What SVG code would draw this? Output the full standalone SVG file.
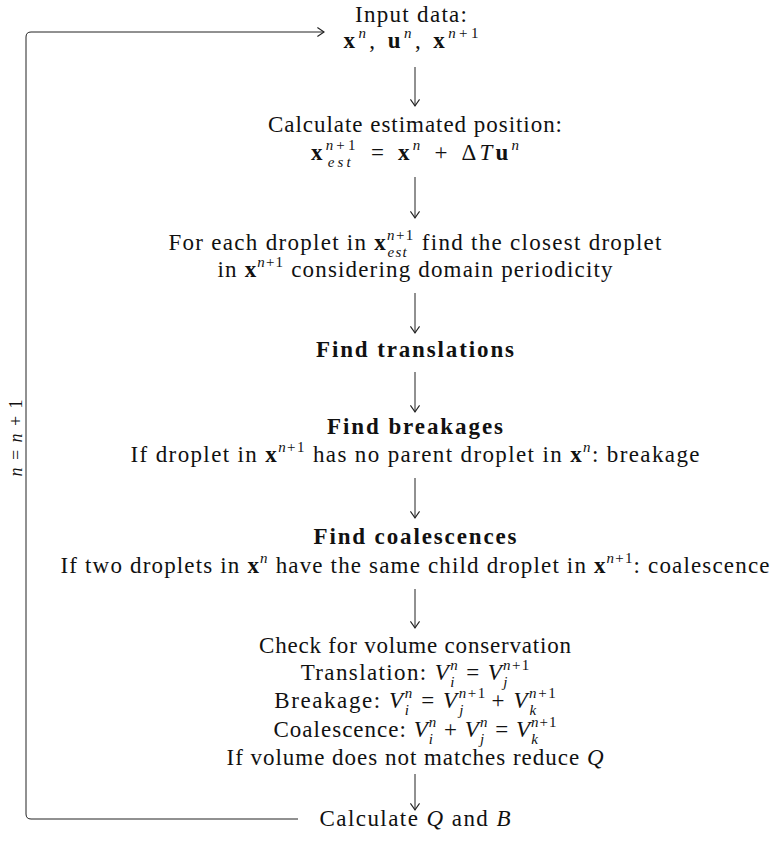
<svg xmlns="http://www.w3.org/2000/svg" width="774" height="860" viewBox="0 0 774 860">
<style>
text { font-family: "Liberation Serif", "Times New Roman", serif; font-size: 23px; fill: #111; text-anchor: middle; }
.b { font-weight: bold; }
.i { font-style: italic; }
.s { font-size: 15px; }
.conn { fill: none; stroke: #222; stroke-width: 1; }
</style>
<defs>
<marker id="arr" markerUnits="userSpaceOnUse" markerWidth="12" markerHeight="12" viewBox="-7 -5 8 10" refX="0" refY="0" orient="auto">
<path d="M-5.5,-3.8 Q-1.5,-1 0,0 Q-1.5,1 -5.5,3.8" fill="none" stroke="#222" stroke-width="0.9"/>
</marker>
</defs>
<g id="connectors">
<line class="conn" x1="415" y1="67" x2="415" y2="106" marker-end="url(#arr)"/>
<line class="conn" x1="415" y1="177" x2="415" y2="218" marker-end="url(#arr)"/>
<line class="conn" x1="415" y1="293" x2="415" y2="333" marker-end="url(#arr)"/>
<line class="conn" x1="415" y1="372" x2="415" y2="412" marker-end="url(#arr)"/>
<line class="conn" x1="415" y1="478" x2="415" y2="518" marker-end="url(#arr)"/>
<line class="conn" x1="415" y1="589" x2="415" y2="628" marker-end="url(#arr)"/>
<line class="conn" x1="415" y1="774" x2="415" y2="810" marker-end="url(#arr)"/>
<path class="conn" d="M298,819 H31 Q26,819 26,814 V37 Q26,32 31,32 H324" marker-end="url(#arr)"/>
<text transform="translate(22,438) rotate(-90)" style="font-size:18px" textLength="77"><tspan class="i">n</tspan> = <tspan class="i">n</tspan> + 1</text>
</g>
<g id="input">
<text x="411" y="21.5" textLength="112">Input data:</text>
<text x="411" y="48" textLength="135"><tspan class="b">x</tspan><tspan class="s i" dy="-10">n</tspan><tspan dy="10">,  </tspan><tspan class="b">u</tspan><tspan class="s i" dy="-10">n</tspan><tspan dy="10">,  </tspan><tspan class="b">x</tspan><tspan class="s" dy="-10"><tspan class="i">n</tspan>+1</tspan></text>
</g>
<g id="estimate">
<text x="415" y="131.5" textLength="294">Calculate estimated position:</text>
<text x="415" y="160" textLength="208"><tspan class="b">x</tspan><tspan class="s" dy="-10"><tspan class="i">n</tspan>+1</tspan><tspan class="s i" dx="-31" dy="17">est</tspan><tspan dx="17" dy="-7">=</tspan><tspan class="b" dx="11">x</tspan><tspan class="s i" dy="-10">n</tspan><tspan dx="11" dy="10">+</tspan><tspan dx="11">Δ</tspan><tspan class="i">T</tspan><tspan class="b">u</tspan><tspan class="s i" dy="-10">n</tspan></text>
</g>
<g id="closest">
<text x="415" y="250" textLength="493">For each droplet in <tspan class="b">x</tspan><tspan class="s" dy="-10"><tspan class="i">n</tspan>+1</tspan><tspan class="s i" dx="-27" dy="17">est</tspan><tspan dx="6.8" dy="-7"> find the closest droplet</tspan></text>
<text x="415" y="277" textLength="395">in <tspan class="b">x</tspan><tspan class="s" dy="-10"><tspan class="i">n</tspan>+1</tspan><tspan dy="10"> considering domain periodicity</tspan></text>
</g>
<g id="translations">
<text x="415" y="357" class="b" textLength="198">Find translations</text>
</g>
<g id="breakages">
<text x="415" y="434" class="b" textLength="176">Find breakages</text>
<text x="415" y="462" textLength="569">If droplet in <tspan class="b">x</tspan><tspan class="s" dy="-10"><tspan class="i">n</tspan>+1</tspan><tspan dy="10"> has no parent droplet in </tspan><tspan class="b">x</tspan><tspan class="s i" dy="-10">n</tspan><tspan dy="10">: breakage</tspan></text>
</g>
<g id="coalescences">
<text x="415" y="544" class="b" textLength="203">Find coalescences</text>
<text x="415" y="573" textLength="709">If two droplets in <tspan class="b">x</tspan><tspan class="s i" dy="-10">n</tspan><tspan dy="10"> have the same child droplet in </tspan><tspan class="b">x</tspan><tspan class="s" dy="-10"><tspan class="i">n</tspan>+1</tspan><tspan dy="10">: coalescence</tspan></text>
</g>
<g id="volume">
<text x="415" y="653" textLength="312">Check for volume conservation</text>
<text x="415" y="680" textLength="230">Translation: <tspan class="i">V</tspan><tspan class="s i" dy="-10">n</tspan><tspan class="s i" dx="-8.8" dy="17">i</tspan><tspan dx="3.3" dy="-7"> = </tspan><tspan class="i">V</tspan><tspan class="s" dy="-10"><tspan class="i">n</tspan>+1</tspan><tspan class="s i" dx="-27.4" dy="17">j</tspan></text>
<text x="415" y="708" textLength="283">Breakage: <tspan class="i">V</tspan><tspan class="s i" dy="-10">n</tspan><tspan class="s i" dx="-8.9" dy="17">i</tspan><tspan dx="3.3" dy="-7"> = </tspan><tspan class="i">V</tspan><tspan class="s" dy="-10"><tspan class="i">n</tspan>+1</tspan><tspan class="s i" dx="-27.7" dy="17">j</tspan><tspan dx="19.3" dy="-7"> + </tspan><tspan class="i">V</tspan><tspan class="s" dy="-10"><tspan class="i">n</tspan>+1</tspan><tspan class="s i" dx="-27.7" dy="17">k</tspan></text>
<text x="415" y="737" textLength="284">Coalescence: <tspan class="i">V</tspan><tspan class="s i" dy="-10">n</tspan><tspan class="s i" dx="-8.4" dy="17">i</tspan><tspan dx="3.3" dy="-7"> + </tspan><tspan class="i">V</tspan><tspan class="s i" dy="-10">n</tspan><tspan class="s i" dx="-8.4" dy="17">j</tspan><tspan dx="3.3" dy="-7"> = </tspan><tspan class="i">V</tspan><tspan class="s" dy="-10"><tspan class="i">n</tspan>+1</tspan><tspan class="s i" dx="-26.2" dy="17">k</tspan></text>
<text x="415" y="765" textLength="377">If volume does not matches reduce <tspan class="i">Q</tspan></text>
</g>
<g id="calc-qb">
<text x="415" y="826" textLength="191">Calculate <tspan class="i">Q</tspan> and <tspan class="i">B</tspan></text>
</g>
</svg>
